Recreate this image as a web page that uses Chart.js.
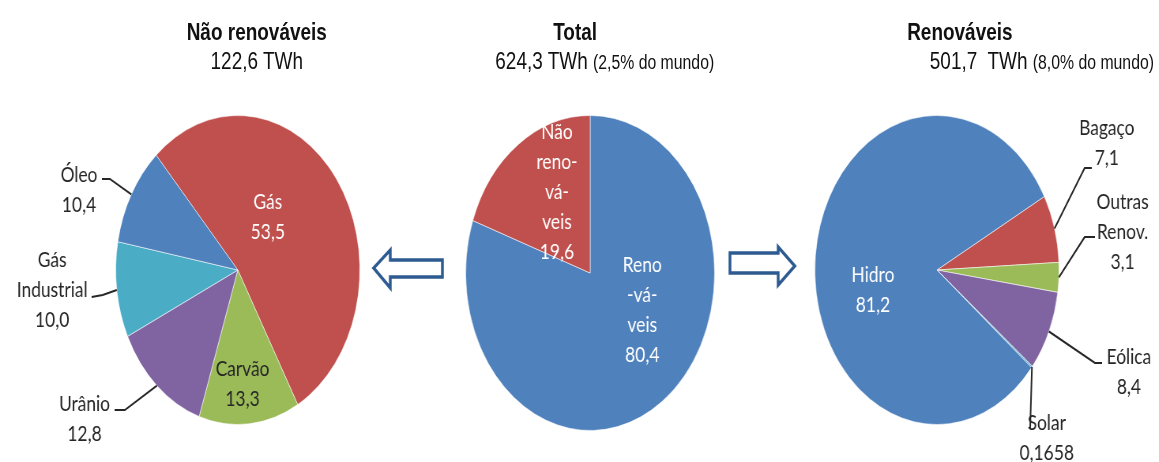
<!DOCTYPE html>
<html>
<head>
<meta charset="utf-8">
<script src="https://cdn.jsdelivr.net/npm/chart.js@4/dist/chart.umd.min.js"></script>
<style>
  html, body { margin: 0; padding: 0; background: #fff; }
  #page { width: 1159px; height: 462px; overflow: hidden; position: relative; }
  /* the original figure is squeezed horizontally, so draw wide and squeeze */
  #wrap { position: absolute; left: 0; top: 0; width: 1467px; height: 462px; transform: scaleX(0.79); transform-origin: 0 0; }
  #wrap canvas { position: absolute; top: 0; }
  .ttl { position: absolute; font-family: "Liberation Sans", Arial, sans-serif; font-size: 24px; line-height: 29px; color: #111; white-space: nowrap; }
  .ttl b { font-weight: bold; }
  .ttl small { font-size: 20px; }
</style>
</head>
<body>
<div id="page">
  <div id="wrap">
    <div class="ttl" style="left:175px; width:300px; top:17px; text-align:center;"><b>Não renováveis</b><br>122,6 TWh</div>
    <div class="ttl" style="left:578px; width:300px; top:17px; text-align:center;"><b>Total</b></div>
    <div class="ttl" style="left:627px; top:46px;">624,3 TWh <small>(2,5% do mundo)</small></div>
    <div class="ttl" style="left:1065px; width:300px; top:17px; text-align:center;"><b>Renováveis</b></div>
    <div class="ttl" style="left:1177px; top:46px;">501,7&nbsp; TWh <small>(8,0% do mundo)</small></div>

    <canvas id="pieNaoRen" width="602" height="462" style="left:0px"></canvas>
    <canvas id="pieTotal" width="574" height="462" style="left:460px"></canvas>
    <canvas id="pieRen" width="562" height="462" style="left:905px"></canvas>
  </div>
</div>

<script>
// --- data ---
const naoRenNames = [["Gás"], ["Carvão"], ["Urânio"], ["Gás", "Industrial"], ["Óleo"]];
const naoRenValues = [53.5, 13.3, 12.8, 10.0, 10.4];

const totalNames = [["Reno", "-vá-", "veis"], ["Não", "reno-", "vá-", "veis"]];
const totalValues = [80.4, 19.6];

const renNames = [["Bagaço"], ["Outras", "Renov."], ["Eólica"], ["Solar"], ["Hidro"]];
const renValues = [7.1, 3.1, 8.4, 0.1658, 81.2];

// office palette
const BLUE = "#4f81bd", RED = "#c0504d", GREEN = "#9bbb59", PURPLE = "#8064a2", CYAN = "#4bacc6";
const DARK = "#262626";

function fmt(v) {
  let s = String(v);
  if (s.indexOf(".") < 0) s += ".0";
  return s.replace(".", ",");
}

// labels, with leader lines starting on the slice edge
const sliceLabels = {
  id: "sliceLabels",
  afterDraw(chart, args, opts) {
    const ctx = chart.ctx;
    const meta = chart.getDatasetMeta(0);
    const values = chart.data.datasets[0].data;
    ctx.save();
    opts.spots.forEach((spot) => {
      const arc = meta.data[spot.index];
      if (spot.leader) {
        const mid = (arc.startAngle + arc.endAngle) / 2;
        ctx.beginPath();
        ctx.moveTo(arc.x + Math.cos(mid) * arc.outerRadius, arc.y + Math.sin(mid) * arc.outerRadius);
        spot.leader.forEach((p) => ctx.lineTo(arc.x + p[0], arc.y + p[1]));
        ctx.strokeStyle = DARK;
        ctx.lineWidth = 2;
        ctx.stroke();
      }
      const lines = opts.names[spot.index].concat(fmt(values[spot.index]));
      ctx.font = "22px Lato, 'Noto Sans', sans-serif";
      ctx.fillStyle = spot.color || DARK;
      ctx.textAlign = spot.align || "center";
      ctx.textBaseline = "middle";
      lines.forEach((t, i) => ctx.fillText(t, arc.x + spot.dx, arc.y + spot.dy + i * 30));
    });
    ctx.restore();
  }
};

// hollow arrows beside the middle pie
const arrows = {
  id: "arrows",
  afterDraw(chart, args, opts) {
    if (!opts.shapes) return;
    const ctx = chart.ctx;
    const arc = chart.getDatasetMeta(0).data[0];
    ctx.save();
    ctx.strokeStyle = "#2d5b91";
    ctx.lineWidth = 3.5;
    ctx.lineJoin = "miter";
    opts.shapes.forEach((pts) => {
      ctx.beginPath();
      pts.forEach((p, i) => (i ? ctx.lineTo : ctx.moveTo).call(ctx, arc.x + p[0], arc.y + p[1]));
      ctx.closePath();
      ctx.fillStyle = "#fff";
      ctx.fill();
      ctx.stroke();
    });
    ctx.restore();
  }
};

function makePie(id, names, values, colors, rotation, pad, spots, shapes) {
  return new Chart(document.getElementById(id), {
    type: "pie",
    data: {
      labels: names.map((n) => n.join(" ")),
      datasets: [{
        data: values,
        backgroundColor: colors,
        borderColor: "rgba(255,255,255,0.55)",
        borderWidth: 1
      }]
    },
    options: {
      responsive: false,
      animation: false,
      events: [],
      rotation: rotation,
      layout: { padding: pad },
      plugins: {
        legend: { display: false },
        tooltip: { enabled: false },
        sliceLabels: { names: names, spots: spots },
        arrows: { shapes: shapes }
      }
    },
    plugins: [sliceLabels, arrows]
  });
}

makePie("pieNaoRen", naoRenNames, naoRenValues, [RED, GREEN, PURPLE, CYAN, BLUE], -42,
  { top: 115, bottom: 37, left: 0, right: 0 },
  [
    { index: 0, dx: 38, dy: -68, color: "#fff" },
    { index: 1, dx: 6, dy: 99 },
    { index: 2, dx: -194, dy: 134, leader: [[-143, 140], [-156, 140]] },
    { index: 3, dx: -235, dy: -10, leader: [[-171, 25], [-185, 27]] },
    { index: 4, dx: -201, dy: -95, leader: [[-162, -91], [-172, -91]] }
  ]);

makePie("pieTotal", totalNames, totalValues, [BLUE, RED], 0,
  { top: 115, bottom: 31, left: 0, right: 0 },
  [
    { index: 0, dx: 66, dy: -8, color: "#fff" },
    { index: 1, dx: -42, dy: -141, color: "#fff" }
  ],
  [
    [[-274, -5], [-253, -23], [-253, -13], [-187, -13], [-187, 4], [-253, 4], [-253, 15]],
    [[177, -20], [238, -20], [238, -26], [259, -7], [238, 12], [238, 0], [177, 0]]
  ]);

makePie("pieRen", renNames, renValues, [RED, GREEN, PURPLE, CYAN, BLUE], 61.6,
  { top: 115, bottom: 37, left: 0, right: 0 },
  [
    { index: 0, dx: 215, dy: -142, leader: [[187, -102], [196, -102]] },
    { index: 1, dx: 235, dy: -68, leader: [[187, -33], [200, -33]] },
    { index: 2, dx: 243, dy: 87, leader: [[200, 93], [209, 93]] },
    { index: 3, dx: 139, dy: 153, leader: [[118, 158]] },
    { index: 4, dx: -81, dy: 5, color: "#fff" }
  ]);
</script>
</body>
</html>
